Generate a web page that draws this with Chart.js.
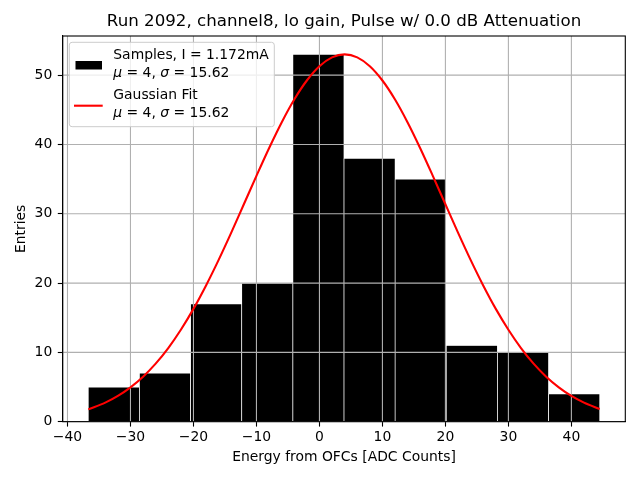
<!DOCTYPE html>
<html><head><meta charset="utf-8">
<script src="https://cdn.jsdelivr.net/npm/chart.js@4"></script>
<style>html,body{margin:0;padding:0;background:#fff;} canvas{display:block;}</style>
</head><body>
<canvas id="c" width="640" height="480"></canvas>
<script>
// ---- data ----
const binCenters = [-32.64, -24.52, -16.40, -8.28, -0.16, 7.96, 16.08, 24.20, 32.32, 40.44];
const binCounts  = [5, 7, 17, 20, 53, 38, 35, 11, 10, 4];
const fitX = [-36.7, -34, -32, -30, -28, -26, -24, -22, -20, -18, -16, -14, -12, -10, -8, -6, -4, -2, 0, 2, 4,
              6, 8, 10, 12, 14, 16, 18, 20, 22, 24, 26, 28, 30, 32, 34, 36, 38, 40, 42, 44.5];
const fitY = [1.78, 2.75, 3.72, 4.96, 6.50, 8.38, 10.63, 13.27, 16.28, 19.66, 23.35, 27.28, 31.37, 35.47, 39.46, 43.18, 46.49, 49.23, 51.29, 52.57, 53.00,
              52.57, 51.29, 49.23, 46.49, 43.18, 39.46, 35.47, 31.37, 27.28, 23.35, 19.66, 16.28, 13.27, 10.63, 8.38, 6.50, 4.96, 3.72, 2.75, 1.84];
const xTicks = [-40, -30, -20, -10, 0, 10, 20, 30, 40];
const yTicks = [0, 10, 20, 30, 40, 50];
const titleText = 'Run 2092, channel8, lo gain, Pulse w/ 0.0 dB Attenuation';
const xLabel = 'Energy from OFCs [ADC Counts]';
const yLabel = 'Entries';
const samplesLabel = 'Samples, I = 1.172mA';
const fitLabel = 'Gaussian Fit';
const muVal = '4', sigmaVal = '15.62';

const FONT = "'DejaVu Sans', sans-serif";
Chart.defaults.font.family = FONT;
Chart.defaults.color = '#000';

const fmt = v => String(v).replace('-', '\u2212');

const gridPlugin = {
  id: 'overGrid',
  afterDatasetDraw(chart, args) {
    if (args.index !== 1) return;
    const {ctx, chartArea: a, scales: {x, y}} = chart;
    ctx.save();
    ctx.beginPath(); ctx.rect(a.left, a.top, a.right - a.left, a.bottom - a.top); ctx.clip();
    ctx.strokeStyle = '#b0b0b0'; ctx.lineWidth = 1.1;
    ctx.beginPath();
    xTicks.forEach(v => { const p = x.getPixelForValue(v); ctx.moveTo(p, a.top); ctx.lineTo(p, a.bottom); });
    yTicks.forEach(v => { const p = y.getPixelForValue(v); ctx.moveTo(a.left, p); ctx.lineTo(a.right, p); });
    ctx.stroke();
    ctx.restore();
  }
};

function drawMath(ctx, x, y) {
  const reg = '13.9px ' + FONT, ita = 'italic 13.9px ' + FONT;
  const parts = [['\u03bc', ita], [' = ' + muVal + ', ', reg], ['\u03c3', ita], [' = ' + sigmaVal, reg]];
  parts.forEach(([t, f]) => { ctx.font = f; ctx.fillText(t, x, y); x += ctx.measureText(t).width; });
}

const framePlugin = {
  id: 'frameLegend',
  afterDraw(chart) {
    const {ctx, chartArea: a} = chart;
    ctx.save();
    ctx.strokeStyle = '#000'; ctx.lineWidth = 1.1;
    ctx.strokeRect(a.left, a.top, a.right - a.left, a.bottom - a.top);
    // legend box
    const bx = 69.3, by = 42.3, bw = 205, bh = 84.4, r = 2.8;
    ctx.beginPath();
    ctx.roundRect(bx, by, bw, bh, r);
    ctx.fillStyle = 'rgba(255,255,255,0.8)'; ctx.fill();
    ctx.strokeStyle = '#cccccc'; ctx.lineWidth = 1; ctx.stroke();
    // handles
    ctx.fillStyle = '#000';
    ctx.fillRect(75.5, 61, 26.5, 8.5);
    ctx.strokeStyle = '#ff0000'; ctx.lineWidth = 2.1;
    ctx.beginPath(); ctx.moveTo(74, 105.7); ctx.lineTo(102.7, 105.7); ctx.stroke();
    // text
    ctx.fillStyle = '#000'; ctx.textBaseline = 'alphabetic'; ctx.textAlign = 'left';
    ctx.font = '13.9px ' + FONT;
    ctx.fillText(samplesLabel, 113.3, 59.3);
    drawMath(ctx, 113.3, 76.5);
    ctx.font = '13.9px ' + FONT;
    ctx.fillText(fitLabel, 113.3, 99);
    drawMath(ctx, 113.3, 116.5);
    ctx.restore();
  }
};

new Chart(document.getElementById('c'), {
  type: 'bar',
  data: {
    datasets: [
      { type: 'line', label: fitLabel, data: fitX.map((x, i) => ({x, y: fitY[i]})),
        borderColor: '#ff0000', borderWidth: 2.1, pointRadius: 0, fill: false,
        cubicInterpolationMode: 'monotone', order: 0 },
      { type: 'bar', label: samplesLabel, data: binCenters.map((x, i) => ({x, y: binCounts[i]})),
        backgroundColor: '#000', borderColor: '#fff', borderWidth: 0.7,
        barPercentage: 1, categoryPercentage: 1, order: 1 }
    ]
  },
  options: {
    responsive: false, animation: false, devicePixelRatio: 1,
    layout: { padding: { left: 0, right: 14.7, top: 0, bottom: 0 } },
    plugins: {
      legend: { display: false }, tooltip: { enabled: false },
      title: { display: true, text: titleText, fullSize: false, color: '#000',
               font: { size: 16.67, weight: 'normal', lineHeight: 1.2 }, padding: { top: 12, bottom: 4 } }
    },
    scales: {
      x: { type: 'linear', min: -40.76, max: 48.56, offset: false,
           afterBuildTicks: s => { s.ticks = xTicks.map(v => ({value: v})); },
           ticks: { callback: fmt, font: { size: 13.9 }, padding: 2, maxRotation: 0, autoSkip: false, color: '#000' },
           grid: { offset: false, drawOnChartArea: false, tickLength: 4.9, tickColor: '#000', tickWidth: 1.1 },
           border: { color: '#000', width: 1.1 },
           title: { display: true, text: xLabel, font: { size: 13.9, lineHeight: 1.2 }, padding: { top: 0, bottom: 14.4 }, color: '#000' },
           afterFit: s => { s.height = 58.3; } },
      y: { type: 'linear', min: 0, max: 55.65,
           afterBuildTicks: s => { s.ticks = yTicks.map(v => ({value: v})); },
           ticks: { callback: fmt, font: { size: 13.9 }, padding: 5.5, autoSkip: false, color: '#000' },
           grid: { offset: false, drawOnChartArea: false, tickLength: 4.9, tickColor: '#000', tickWidth: 1.1 },
           border: { color: '#000', width: 1.1 },
           title: { display: true, text: yLabel, font: { size: 13.9, lineHeight: 1.2 }, padding: { top: 13.4, bottom: 0 }, color: '#000' },
           afterFit: s => { s.width = 62.7; } }
    }
  },
  plugins: [gridPlugin, framePlugin]
});
</script>
</body></html>
